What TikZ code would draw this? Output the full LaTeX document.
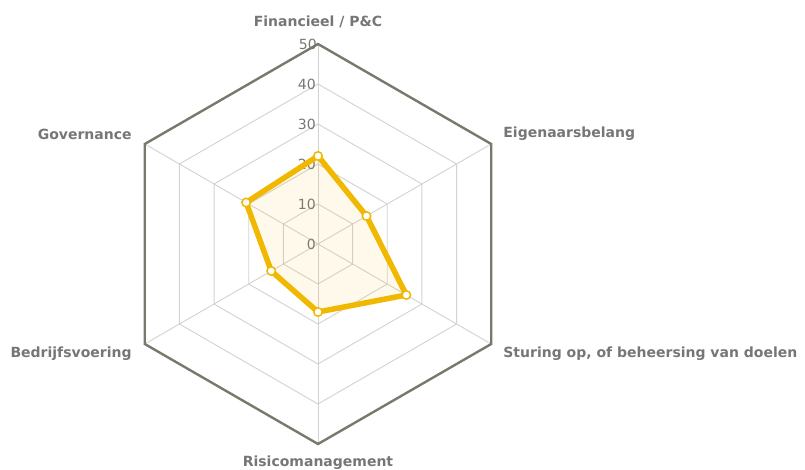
\documentclass[tikz,border=0pt]{standalone}
\usepackage{fontspec}
\setmainfont{DejaVu Sans}
\usetikzlibrary{positioning}

\definecolor{gridgray}{HTML}{D2D2D2}
\definecolor{rimgray}{HTML}{7A786C}
\definecolor{txtgray}{HTML}{767676}
\definecolor{scoreyellow}{HTML}{F0B800}

\tikzset{
  grid/.style={draw=gridgray, line width=0.9pt},
  rim/.style={draw=rimgray, line width=2.4pt, line join=miter},
  axislabel/.style={text=txtgray, font=\bfseries\fontsize{14}{16}\selectfont, inner sep=0pt},
  tick/.style={text=txtgray, font=\fontsize{14}{16}\selectfont, inner sep=0pt, anchor=east},
  score/.style={draw=scoreyellow, line width=5.5pt, line join=round, fill=scoreyellow, fill opacity=0.08},
  marker/.style={circle, draw=scoreyellow, fill=white, line width=1.5pt, minimum size=8.5pt, inner sep=0pt}
}

\begin{document}
\begin{tikzpicture}[x=1pt, y=1pt]
    \useasboundingbox (-318,-226) rectangle (487,244);
    \coordinate (c) at (0,0);
    \coordinate (v_fin) at (90:200);
    \coordinate (v_eig) at (30:200);
    \coordinate (v_stu) at (-30:200);
    \coordinate (v_ris) at (-90:200);
    \coordinate (v_bed) at (210:200);
    \coordinate (v_gov) at (150:200);
    % inner rings
    \foreach \r in {40,80,120,160}
        \draw[grid] (90:\r) -- (30:\r) -- (-30:\r) -- (-90:\r) -- (210:\r) -- (150:\r) -- cycle;
    \path[grid]
    (c) edge (v_fin)
        edge (v_eig)
        edge (v_stu)
        edge (v_ris)
        edge (v_bed)
        edge (v_gov);
    % outer ring
    \draw[rim] (v_fin) -- (v_eig) -- (v_stu) -- (v_ris) -- (v_bed) -- (v_gov) -- cycle;
    % scale
    \node[tick] (t0) at (-2,0) {0};
    \node[tick] (t10) at (-2,40) {10};
    \node[tick] (t20) at (-2,80) {20};
    \node[tick] (t30) at (-2,120) {30};
    \node[tick] (t40) at (-2,160) {40};
    \node[tick] (t50) at (-1,200) {50};
    % scores
    \coordinate (d_fin) at (90:88);
    \coordinate (d_eig) at (30:56);
    \coordinate (d_stu) at (-30:102);
    \coordinate (d_ris) at (-90:68);
    \coordinate (d_bed) at (210:54);
    \coordinate (d_gov) at (150:83);
    \draw[score] (d_fin) -- (d_eig) -- (d_stu) -- (d_ris) -- (d_bed) -- (d_gov) -- cycle;
    \node[marker] (m_fin) at (d_fin) {};
    \node[marker] (m_eig) at (d_eig) {};
    \node[marker] (m_stu) at (d_stu) {};
    \node[marker] (m_ris) at (d_ris) {};
    \node[marker] (m_bed) at (d_bed) {};
    \node[marker] (m_gov) at (d_gov) {};
    % axis names
    \node[axislabel, above=16pt of v_fin] (fin) {Financieel / P\&C};
    \node[axislabel, right=12pt of v_eig, yshift=10pt] (eig) {Eigenaarsbelang};
    \node[axislabel, right=12pt of v_stu, yshift=-10pt] (stu) {Sturing op, of beheersing van doelen};
    \node[axislabel, below=12pt of v_ris] (ris) {Risicomanagement};
    \node[axislabel, left=13pt of v_bed, yshift=-10pt] (bed) {Bedrijfsvoering};
    \node[axislabel, left=13pt of v_gov, yshift=10pt] (gov) {Governance};
\end{tikzpicture}
\end{document}
